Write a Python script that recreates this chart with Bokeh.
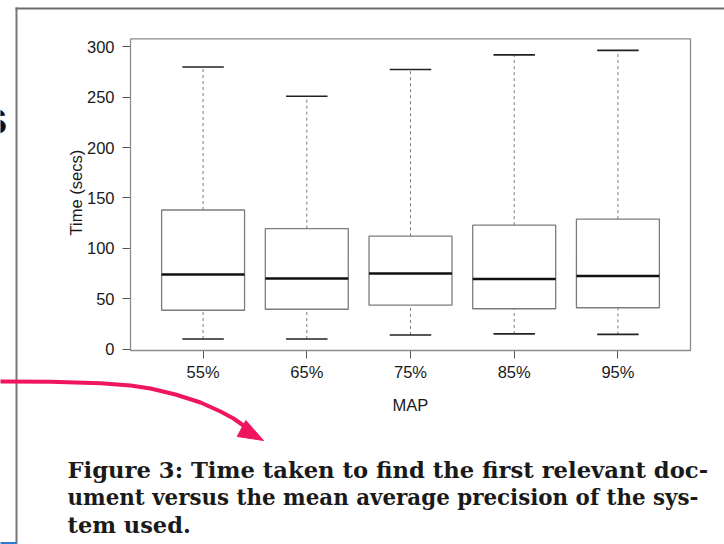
import numpy as np
from bokeh.plotting import figure
from bokeh.models import Range1d, FixedTicker, Label, BoxAnnotation, PolyAnnotation
from bokeh.embed import file_html
from bokeh.resources import INLINE

# ---- data ----
categories = ["55%", "65%", "75%", "85%", "95%"]
lower_whisker = [10, 10, 14, 15, 14.5]
q1 = [38.5, 39.5, 43.5, 40, 41]
median = [74, 70, 75, 69.5, 72.5]
q3 = [138, 119.5, 112, 123, 129]
upper_whisker = [280, 251, 277.5, 292, 296.5]
y_ticks = [0, 50, 100, 150, 200, 250, 300]
x_title = "MAP"
y_title = "Time (secs)"
caption_lines = [
    "Figure 3: Time taken to find the first relevant doc-",
    "ument versus the mean average precision of the sys-",
    "tem used.",
]

W, H = 724, 544
x = np.arange(1, len(categories) + 1)
box_w = 0.8
cap_w = 0.4

# chart box (data limits, R style 4% padding) and where it sits on the page (px)
xlo, xhi = 0.3, len(categories) + 0.7
span = max(upper_whisker) - min(lower_whisker)
ylo, yhi = min(lower_whisker) - 0.04 * span, max(upper_whisker) + 0.04 * span
box_left, box_right, box_top, box_bottom = 130, 690, 38.3, 350
kx = (box_right - box_left) / (xhi - xlo)
ky = (box_bottom - box_top) / (yhi - ylo)
x_range = Range1d(xlo - box_left / kx, xhi + (W - box_right) / kx)
y_range = Range1d(ylo - (H - box_bottom) / ky, yhi + box_top / ky)

p = figure(width=W, height=H, x_range=x_range, y_range=y_range,
           output_backend="svg", toolbar_location=None,
           min_border=0)
p.background_fill_color = "white"
p.border_fill_color = "white"
p.grid.visible = False
p.outline_line_color = None

grey = "#7c7c7c"
# chart box
p.add_layout(BoxAnnotation(left=xlo, right=xhi, bottom=ylo, top=yhi,
                           fill_alpha=0, line_color="#8c8c8c", line_alpha=1, line_width=1.3))
# whiskers
p.segment(x0=x, y0=q3, x1=x, y1=upper_whisker, line_color=grey, line_dash="3 3", line_width=1)
p.segment(x0=x, y0=lower_whisker, x1=x, y1=q1, line_color=grey, line_dash="3 3", line_width=1)
# boxes
p.vbar(x=x, width=box_w, bottom=q1, top=q3, fill_color="white", line_color=grey, line_width=1.3)
# medians
p.segment(x0=x - box_w / 2, y0=median, x1=x + box_w / 2, y1=median, line_color="#111111", line_width=2.6)
# caps
p.segment(x0=x - cap_w / 2, y0=upper_whisker, x1=x + cap_w / 2, y1=upper_whisker, line_color="#222222", line_width=1.6)
p.segment(x0=x - cap_w / 2, y0=lower_whisker, x1=x + cap_w / 2, y1=lower_whisker, line_color="#222222", line_width=1.6)

font = "Liberation Sans"
for ax in (p.xaxis[0], p.yaxis[0]):
    ax.axis_line_color = None
    ax.major_tick_out = 8
    ax.major_tick_in = 0
    ax.minor_tick_line_color = None
    ax.major_tick_line_color = "#555555"
    ax.major_label_text_font = font
    ax.major_label_text_font_size = "16.5px"
    ax.major_label_text_color = "#1a1a1a"

p.xaxis.fixed_location = ylo
p.yaxis.fixed_location = xlo
p.xaxis.ticker = FixedTicker(ticks=list(x))
p.xaxis.major_label_overrides = {int(i): c for i, c in zip(x, categories)}
p.xaxis.major_label_standoff = 4
p.yaxis.ticker = FixedTicker(ticks=y_ticks)
p.yaxis.major_label_standoff = 8


# ---- texts and slide decorations (screen units, page px measured from top-left) ----
def sy(Y):
    return H - Y


p.add_layout(Label(x=(xlo + xhi) / 2, y=sy(404), y_units="screen", text=x_title,
                   text_font=font, text_font_size="16.5px", text_color="#1a1a1a",
                   text_align="center", text_baseline="alphabetic"))
p.add_layout(Label(x=75, x_units="screen", y=(ylo + yhi) / 2 + 2, text=y_title, angle=np.pi / 2,
                   text_font=font, text_font_size="16.5px", text_color="#1a1a1a",
                   text_align="center", text_baseline="middle"))


def box(l, r, t, b, color):
    return BoxAnnotation(left=l, right=r, top=sy(t), bottom=sy(b),
                         left_units="screen", right_units="screen", top_units="screen", bottom_units="screen",
                         fill_color=color, fill_alpha=1, line_color=None)


p.add_layout(box(15, 17, 7, H + 2, "#777777"))
p.add_layout(box(15, W + 2, 7, 9, "#6e6e6e"))
p.add_layout(box(-2, 16, 541.5, H + 2, "#2b7dd1"))

p.add_layout(Label(x=7, y=sy(117), x_units="screen", y_units="screen", text="s",
                   text_font=font, text_font_style="bold", text_font_size="46px",
                   text_align="right", text_baseline="alphabetic", text_color="#111111"))

pink = "#ef1560"
ax_ = [-5, 50, 100, 130, 150, 175, 200, 220, 233, 243]
ay_ = [381, 381.3, 382.7, 385, 388, 394, 402, 411, 418, 425]
xs = ax_ + ax_[::-1]
ys = [sy(v) for v in ay_ + ay_[::-1]]
p.add_layout(PolyAnnotation(xs=xs, ys=ys, xs_units="screen", ys_units="screen",
                            line_color=pink, line_alpha=1, line_width=4, line_join="round", fill_alpha=0))
p.add_layout(PolyAnnotation(xs=[263, 245.3, 236.7], ys=[sy(440), sy(420), sy(436)],
                            xs_units="screen", ys_units="screen",
                            line_color=pink, line_alpha=1, line_width=1, fill_color=pink, fill_alpha=1))

baselines = [469, 497, 524]
caption_sizes = ["22.7px", "21.4px", "22.5px"]
for t, b, s in zip(caption_lines, baselines, caption_sizes):
    p.add_layout(Label(x=67, y=sy(b), x_units="screen", y_units="screen", text=t,
                       text_font="DejaVu Serif", text_font_style="bold", text_font_size=s,
                       text_baseline="alphabetic", text_color="#1a1a1a"))

open("out.html", "w").write(file_html(p, INLINE))
